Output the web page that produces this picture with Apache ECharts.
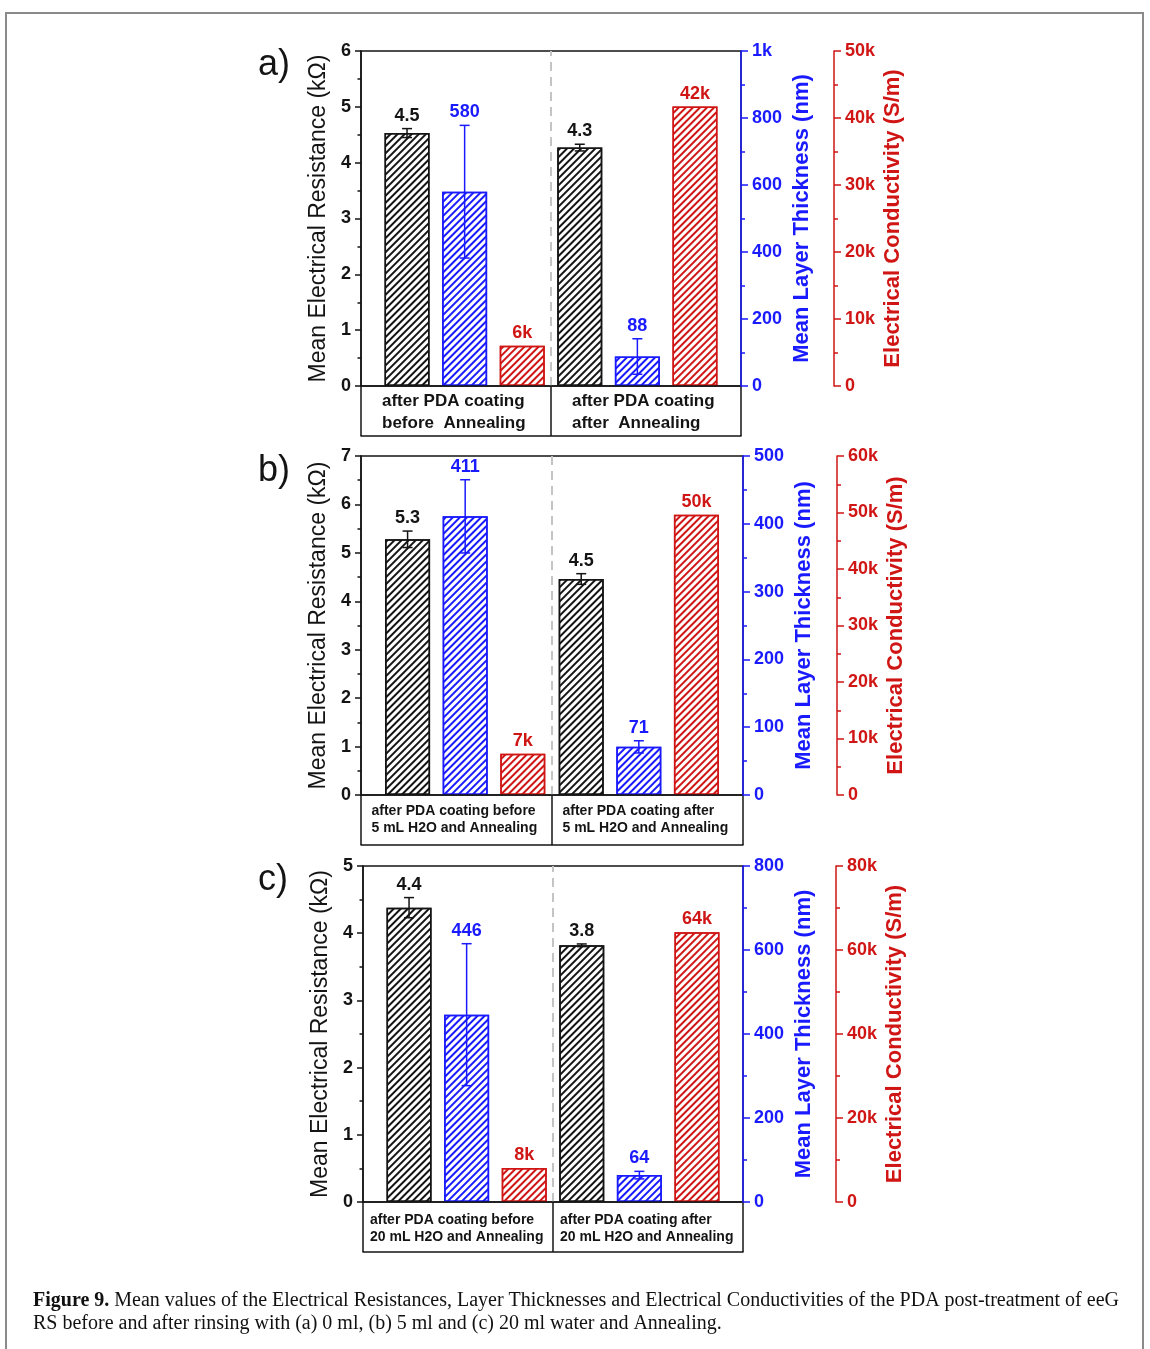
<!DOCTYPE html>
<html><head><meta charset="utf-8">
<script src="https://cdn.jsdelivr.net/npm/echarts@6/dist/echarts.min.js"></script>
<style>html,body{margin:0;padding:0;background:#fff}#c{width:1150px;height:1349px}</style>
</head><body><div id="c"></div>
<script>
// ---------------- data ----------------
const groupX = [1, 2];
const catsA = ['after PDA coating\nbefore  Annealing', 'after PDA coating\nafter  Annealing'];
const catsB = ['after PDA coating before\n5 mL H2O and Annealing', 'after PDA coating after\n5 mL H2O and Annealing'];
const catsC = ['after PDA coating before\n20 mL H2O and Annealing', 'after PDA coating after\n20 mL H2O and Annealing'];

// panel a
const resA = [4.53, 4.27];   const resErrA = [0.08, 0.06];
const thkA = [580, 88];      const thkErrA = [198, 53];
const condA = [6000, 41700];
// panel b
const resB = [5.28, 4.46];   const resErrB = [0.17, 0.11];
const thkB = [411, 71];      const thkErrB = [54, 9];
const condB = [7300, 49600];
// panel c
const resC = [4.38, 3.82];   const resErrC = [0.15, 0.02];
const thkC = [446, 64];      const thkErrC = [169, 9];
const condC = [8100, 64200];

// axis ranges [max, interval]
const resAxis = [[6, 1], [7, 1], [5, 1]];
const thkAxis = [[1000, 200], [500, 100], [800, 200]];
const condAxis = [[50000, 10000], [60000, 10000], [80000, 20000]];

const panelLetters = ['a)', 'b)', 'c)'];
const captionLine1 = 'Mean values of the Electrical Resistances, Layer Thicknesses and Electrical Conductivities of the PDA post-treatment of eeG';
const captionLine2 = 'RS before and after rinsing with (a) 0 ml, (b) 5 ml and (c) 20 ml water and Annealing.';

// ---------------- style ----------------
const BLACK = '#141414', BLUE = '#1a1aff', RED = '#d01515', GREY = '#c4c4c4';
const FONT = '"Liberation Sans", Arial, Helvetica, sans-serif';
const SERIF = '"Liberation Serif", "Times New Roman", serif';
const BW = 45, GAP = 0.28, STEP = BW * (1 + GAP);

const layouts = [
  {grid: {left: 361, top: 51, width: 380, height: 335}, redOffset: 93, catFont: 17, catLH: 22, catMargin: 4, catW: 148, letterTop: 47},
  {grid: {left: 361, top: 456, width: 382, height: 339}, redOffset: 94, catFont: 14, catLH: 17.5, catMargin: 7, catW: 170, letterTop: 453},
  {grid: {left: 363, top: 866, width: 380, height: 336}, redOffset: 93, catFont: 14, catLH: 17.5, catMargin: 9, catW: 176, letterTop: 862}
];
const panelData = [
  {cats: catsA, res: resA, resErr: resErrA, thk: thkA, thkErr: thkErrA, cond: condA},
  {cats: catsB, res: resB, resErr: resErrB, thk: thkB, thkErr: thkErrB, cond: condB},
  {cats: catsC, res: resC, resErr: resErrC, thk: thkC, thkErr: thkErrC, cond: condC}
];

function fmtK(v) { return v >= 1000 ? (v / 1000) + 'k' : String(v); }
const fmtRes = v => v.toFixed(1);
const fmtThk = v => String(Math.round(v));
const fmtCond = v => Math.round(v / 1000) + 'k';

function hatch(color) {
  return {symbol: 'rect', symbolSize: 1, dashArrayX: [1, 0], dashArrayY: [2, 3], rotation: -Math.PI / 4, color: color};
}

function errSeries(xIdx, yIdx, data, shift, color, fmt) {
  return {
    type: 'custom', xAxisIndex: xIdx, yAxisIndex: yIdx, data: data, z: 6, silent: true, clip: false,
    renderItem: function (params, api) {
      const x = api.value(0), v = api.value(1), e = api.value(2);
      const base = api.coord([x, v]);
      const cx = base[0] + shift * STEP;
      const top = api.coord([x, v + e])[1];
      const bot = api.coord([x, v - e])[1];
      const ch = [];
      if (e > 0) {
        const ls = {stroke: color, lineWidth: 1.5};
        ch.push({type: 'line', shape: {x1: cx, y1: top, x2: cx, y2: bot}, style: ls});
        ch.push({type: 'line', shape: {x1: cx - 5, y1: top, x2: cx + 5, y2: top}, style: ls});
        ch.push({type: 'line', shape: {x1: cx - 5, y1: bot, x2: cx + 5, y2: bot}, style: ls});
      }
      ch.push({type: 'text', x: cx, y: top - 4, style: {text: fmt(v), fill: color, fontSize: 18, fontWeight: 'bold', fontFamily: FONT, align: 'center', verticalAlign: 'bottom'}});
      return {type: 'group', children: ch};
    }
  };
}

const option = {
  animation: false,
  aria: {enabled: true, decal: {show: true}},
  backgroundColor: '#fff',
  grid: [], xAxis: [], yAxis: [], series: [], title: [],
  graphic: [{type: 'rect', shape: {x: 6, y: 13, width: 1137, height: 1400}, style: {fill: 'none', stroke: '#8a8a8a', lineWidth: 2}, silent: true}]
};

layouts.forEach(function (L, k) {
  const D = panelData[k];
  option.grid.push(Object.assign({show: true, borderColor: BLACK, borderWidth: 1.5, backgroundColor: 'transparent'}, L.grid));
  const xv = option.xAxis.length;
  option.xAxis.push({type: 'value', gridIndex: k, min: 0.4, max: 2.6, position: 'bottom', z: 4,
    axisLine: {show: true, onZero: false, lineStyle: {color: BLACK, width: 1.5}}, axisTick: {show: false}, axisLabel: {show: false}, splitLine: {show: false}});
  option.xAxis.push({type: 'category', gridIndex: k, data: D.cats, position: 'bottom', z: 4,
    axisLine: {show: false, onZero: false}, axisTick: {show: true, interval: 0, length: 50, lineStyle: {color: BLACK, width: 1.5}},
    splitLine: {show: false},
    axisLabel: {interval: 0, margin: L.catMargin, color: BLACK,
      formatter: function (v) { return v.split('\n').map(function (s) { return '{l|' + s + '}'; }).join('\n'); },
      rich: {l: {width: L.catW, align: 'left', fontSize: L.catFont, fontWeight: 'bold', fontFamily: FONT, color: BLACK, lineHeight: L.catLH}}}});
  option.xAxis.push({type: 'category', gridIndex: k, data: D.cats, position: 'bottom', offset: 50, z: 4,
    axisLine: {show: true, onZero: false, lineStyle: {color: BLACK, width: 1.5}}, axisTick: {show: false}, axisLabel: {show: false}, splitLine: {show: false}});

  const yr = option.yAxis.length;
  option.yAxis.push({type: 'value', gridIndex: k, position: 'left', min: 0, max: resAxis[k][0], interval: resAxis[k][1], z: 4,
    axisLine: {show: true, onZero: false, lineStyle: {color: BLACK, width: 1.5}},
    axisTick: {show: true, length: 6, lineStyle: {color: BLACK, width: 1.5}},
    minorTick: {show: true, splitNumber: 2, length: 3.5, lineStyle: {color: BLACK, width: 1.5}},
    splitLine: {show: false},
    axisLabel: {fontSize: 18, fontWeight: 'bold', color: BLACK, fontFamily: FONT, margin: 10},
    name: 'Mean Electrical Resistance (kΩ)', nameLocation: 'middle', nameRotate: 90, nameGap: 31,
    nameTextStyle: {fontSize: 23, color: BLACK, fontFamily: FONT}});
  const yb = option.yAxis.length;
  option.yAxis.push({type: 'value', gridIndex: k, position: 'right', offset: 0, min: 0, max: thkAxis[k][0], interval: thkAxis[k][1], z: 5,
    axisLine: {show: true, onZero: false, lineStyle: {color: BLUE, width: 1.5}},
    axisTick: {show: true, length: 7, lineStyle: {color: BLUE, width: 1.5}},
    minorTick: {show: true, splitNumber: 2, length: 4, lineStyle: {color: BLUE, width: 1.5}},
    splitLine: {show: false},
    axisLabel: {fontSize: 18, fontWeight: 'bold', color: BLUE, fontFamily: FONT, margin: 11, formatter: fmtK},
    name: 'Mean Layer Thickness (nm)', nameLocation: 'middle', nameRotate: 90, nameGap: 50,
    nameTextStyle: {fontSize: 22, fontWeight: 'bold', color: BLUE, fontFamily: FONT}});
  const yc = option.yAxis.length;
  option.yAxis.push({type: 'value', gridIndex: k, position: 'right', offset: L.redOffset, min: 0, max: condAxis[k][0], interval: condAxis[k][1], z: 5,
    axisLine: {show: true, onZero: false, lineStyle: {color: RED, width: 1.5}},
    axisTick: {show: true, length: 7, lineStyle: {color: RED, width: 1.5}},
    minorTick: {show: true, splitNumber: 2, length: 4, lineStyle: {color: RED, width: 1.5}},
    splitLine: {show: false},
    axisLabel: {fontSize: 18, fontWeight: 'bold', color: RED, fontFamily: FONT, margin: 11, formatter: fmtK},
    name: 'Electrical Conductivity (S/m)', nameLocation: 'middle', nameRotate: 90, nameGap: 48,
    nameTextStyle: {fontSize: 22, fontWeight: 'bold', color: RED, fontFamily: FONT}});

  const barBase = {type: 'bar', xAxisIndex: xv, barWidth: BW, barGap: (GAP * 100) + '%', z: 3, silent: true};
  option.series.push(Object.assign({}, barBase, {name: 'res' + k, yAxisIndex: yr,
    data: D.res.map(function (v, i) { return [groupX[i], v]; }),
    itemStyle: {color: '#fff', borderColor: BLACK, borderWidth: 1.5, decal: hatch(BLACK)}}));
  option.series.push(Object.assign({}, barBase, {name: 'thk' + k, yAxisIndex: yb,
    data: D.thk.map(function (v, i) { return [groupX[i], v]; }),
    itemStyle: {color: '#fff', borderColor: BLUE, borderWidth: 1.5, decal: hatch(BLUE)},
    markLine: {silent: true, symbol: ['none', 'none'], label: {show: false}, z: 1,
      lineStyle: {color: GREY, type: [9, 6], width: 2}, data: [{xAxis: 1.5}]}}));
  option.series.push(Object.assign({}, barBase, {name: 'cond' + k, yAxisIndex: yc,
    data: D.cond.map(function (v, i) { return [groupX[i], v]; }),
    itemStyle: {color: '#fff', borderColor: RED, borderWidth: 1.5, decal: hatch(RED)}}));

  option.series.push(errSeries(xv, yr, D.res.map(function (v, i) { return [groupX[i], v, D.resErr[i]]; }), -1, BLACK, fmtRes));
  option.series.push(errSeries(xv, yb, D.thk.map(function (v, i) { return [groupX[i], v, D.thkErr[i]]; }), 0, BLUE, fmtThk));
  option.series.push(errSeries(xv, yc, D.cond.map(function (v, i) { return [groupX[i], v, 0]; }), 1, RED, fmtCond));

  option.title.push({text: panelLetters[k], left: 258, top: L.letterTop, padding: 0,
    textStyle: {fontSize: 36, fontWeight: 'normal', color: BLACK, fontFamily: FONT}});
});

option.title.push({left: 33, top: 1289, padding: 0,
  text: '{b|Figure 9.} {n|' + captionLine1 + '}\n{n|' + captionLine2 + '}',
  textStyle: {rich: {
    b: {fontFamily: SERIF, fontWeight: 'bold', fontSize: 20, lineHeight: 23, color: '#111'},
    n: {fontFamily: SERIF, fontWeight: 'normal', fontSize: 20, lineHeight: 23, color: '#111'}}}});

const chart = echarts.init(document.getElementById('c'), null, {renderer: 'canvas', width: 1150, height: 1349});
chart.setOption(option);
</script>
</body></html>
